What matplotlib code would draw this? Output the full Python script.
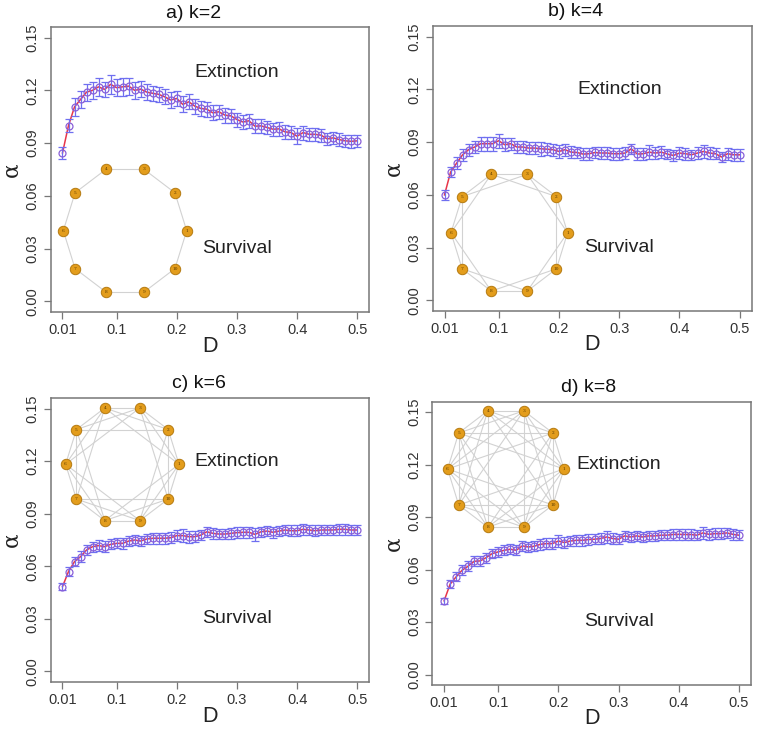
import matplotlib.pyplot as plt
import numpy as np

plt.rcParams['font.family'] = ['Liberation Sans', 'DejaVu Sans']

W, H = 760, 729

# diffusion values on the x axis
D = np.linspace(0.01, 0.50, 50)

alpha_k2 = [0.0844, 0.1000, 0.1106, 0.1148, 0.1190, 0.1200, 0.1220, 0.1205, 0.1234, 0.1215,
            0.1220, 0.1224, 0.1200, 0.1207, 0.1190, 0.1183, 0.1177, 0.1163, 0.1145, 0.1154,
            0.1120, 0.1135, 0.1110, 0.1097, 0.1093, 0.1072, 0.1078, 0.1059, 0.1055, 0.1034,
            0.1020, 0.1027, 0.0996, 0.0998, 0.0989, 0.0979, 0.0981, 0.0964, 0.0960, 0.0939,
            0.0960, 0.0950, 0.0950, 0.0945, 0.0924, 0.0930, 0.0920, 0.0913, 0.0910, 0.0913]
err_k2 = [0.0033, 0.0038, 0.0050, 0.0050, 0.0048, 0.0050, 0.0050, 0.0045, 0.0052, 0.0050,
          0.0050, 0.0048, 0.0048, 0.0045, 0.0045, 0.0043, 0.0043, 0.0043, 0.0045, 0.0045,
          0.0045, 0.0043, 0.0042, 0.0042, 0.0042, 0.0042, 0.0040, 0.0042, 0.0040, 0.0040,
          0.0040, 0.0040, 0.0040, 0.0040, 0.0038, 0.0038, 0.0038, 0.0038, 0.0038, 0.0045,
          0.0040, 0.0038, 0.0038, 0.0036, 0.0036, 0.0036, 0.0035, 0.0035, 0.0035, 0.0035]

alpha_k4 = [0.0600, 0.0729, 0.0780, 0.0828, 0.0857, 0.0872, 0.0891, 0.0891, 0.0891, 0.0908,
            0.0885, 0.0891, 0.0872, 0.0872, 0.0866, 0.0866, 0.0862, 0.0860, 0.0857, 0.0847,
            0.0857, 0.0843, 0.0841, 0.0832, 0.0834, 0.0841, 0.0838, 0.0838, 0.0834, 0.0834,
            0.0838, 0.0862, 0.0832, 0.0834, 0.0843, 0.0838, 0.0843, 0.0832, 0.0824, 0.0838,
            0.0834, 0.0828, 0.0838, 0.0847, 0.0838, 0.0834, 0.0815, 0.0834, 0.0828, 0.0828]
err_k4 = [0.0030, 0.0030, 0.0035, 0.0035, 0.0035, 0.0035, 0.0040, 0.0040, 0.0040, 0.0040,
          0.0038, 0.0035, 0.0035, 0.0035, 0.0035, 0.0035, 0.0040, 0.0035, 0.0035, 0.0035,
          0.0035, 0.0033, 0.0033, 0.0033, 0.0033, 0.0033, 0.0035, 0.0033, 0.0033, 0.0035,
          0.0033, 0.0030, 0.0033, 0.0033, 0.0038, 0.0033, 0.0035, 0.0030, 0.0030, 0.0033,
          0.0033, 0.0030, 0.0033, 0.0035, 0.0033, 0.0030, 0.0030, 0.0033, 0.0033, 0.0033]

alpha_k6 = [0.0484, 0.0570, 0.0627, 0.0655, 0.0693, 0.0712, 0.0718, 0.0712, 0.0725, 0.0731,
            0.0731, 0.0744, 0.0750, 0.0744, 0.0756, 0.0760, 0.0760, 0.0760, 0.0763, 0.0775,
            0.0775, 0.0769, 0.0769, 0.0778, 0.0797, 0.0788, 0.0784, 0.0784, 0.0788, 0.0792,
            0.0794, 0.0794, 0.0782, 0.0797, 0.0801, 0.0794, 0.0801, 0.0807, 0.0803, 0.0803,
            0.0811, 0.0807, 0.0803, 0.0807, 0.0807, 0.0807, 0.0811, 0.0811, 0.0807, 0.0807]
err_k6 = [0.0020, 0.0025, 0.0028, 0.0030, 0.0030, 0.0028, 0.0030, 0.0030, 0.0028, 0.0028,
          0.0030, 0.0030, 0.0030, 0.0030, 0.0030, 0.0030, 0.0030, 0.0030, 0.0030, 0.0030,
          0.0035, 0.0035, 0.0030, 0.0030, 0.0030, 0.0030, 0.0030, 0.0030, 0.0030, 0.0030,
          0.0030, 0.0030, 0.0035, 0.0030, 0.0030, 0.0030, 0.0030, 0.0030, 0.0030, 0.0030,
          0.0033, 0.0030, 0.0030, 0.0030, 0.0030, 0.0030, 0.0030, 0.0030, 0.0030, 0.0030]

alpha_k8 = [0.0421, 0.0516, 0.0558, 0.0596, 0.0619, 0.0647, 0.0649, 0.0668, 0.0691, 0.0701,
            0.0710, 0.0716, 0.0710, 0.0735, 0.0729, 0.0733, 0.0744, 0.0748, 0.0748, 0.0763,
            0.0754, 0.0763, 0.0767, 0.0767, 0.0771, 0.0773, 0.0777, 0.0786, 0.0777, 0.0773,
            0.0792, 0.0786, 0.0792, 0.0786, 0.0792, 0.0792, 0.0796, 0.0796, 0.0800, 0.0801,
            0.0800, 0.0800, 0.0796, 0.0809, 0.0801, 0.0805, 0.0805, 0.0809, 0.0801, 0.0796]
err_k8 = [0.0018, 0.0022, 0.0025, 0.0028, 0.0028, 0.0028, 0.0028, 0.0028, 0.0028, 0.0028,
          0.0028, 0.0028, 0.0028, 0.0030, 0.0030, 0.0030, 0.0030, 0.0030, 0.0030, 0.0033,
          0.0030, 0.0030, 0.0030, 0.0030, 0.0030, 0.0030, 0.0030, 0.0035, 0.0030, 0.0030,
          0.0030, 0.0030, 0.0030, 0.0030, 0.0030, 0.0030, 0.0030, 0.0030, 0.0030, 0.0030,
          0.0030, 0.0030, 0.0030, 0.0033, 0.0030, 0.0030, 0.0030, 0.0030, 0.0030, 0.0030]

titles = ['a) k=2', 'b) k=4', 'c) k=6', 'd) k=8']
ks = [2, 4, 6, 8]
series = [alpha_k2, alpha_k4, alpha_k6, alpha_k8]
errors = [err_k2, err_k4, err_k6, err_k8]
ext_y = [0.13, 0.12, 0.12, 0.12]
surv_y = [0.03, 0.03, 0.03, 0.03]
xticks = [0.01, 0.1, 0.2, 0.3, 0.4, 0.5]
xticklabels = ['0.01', '0.1', '0.2', '0.3', '0.4', '0.5']
yticks = [0.00, 0.03, 0.06, 0.09, 0.12, 0.15]
yticklabels = ['0.00', '0.03', '0.06', '0.09', '0.12', '0.15']
n_nodes = 10

# axes boxes in pixels: left, top, right, bottom
boxes = [(50.7, 27, 369, 312), (432.7, 26, 751.5, 311),
         (50.7, 398, 369, 682), (432.3, 401.5, 750.7, 685)]
title_dx = [-16, -17, -11, -3]
# network insets: centre x, centre y, radius x, radius y (pixels)
insets = [(125, 230.7, 61.7, 64.5), (509.3, 232.7, 58.3, 61.4),
          (122.3, 464.3, 56.7, 59.2), (505.8, 469, 58.2, 61.2)]

grey = '#777777'
fig = plt.figure(figsize=(W / 100, H / 100), dpi=100)

for i in range(4):
    l, t, r, b = boxes[i]
    ax = fig.add_axes([l / W, 1 - b / H, (r - l) / W, (b - t) / H])
    ax.plot(D, series[i], color='#e8364a', lw=1.1, zorder=2)
    ax.errorbar(D, series[i], yerr=errors[i], fmt='none', ecolor='#6f6ff0',
                elinewidth=0.9, capsize=3, capthick=0.9, zorder=3)
    ax.plot(D, series[i], 'o', ms=5, mfc='none', mec='#8a5fd8', mew=0.9, zorder=4)
    ax.set_xlim(0.01 - 0.0196, 0.5 + 0.0196)
    ax.set_ylim(-0.006, 0.156)
    ax.set_xticks(xticks)
    ax.set_xticklabels(xticklabels)
    ax.set_yticks(yticks)
    ax.set_yticklabels(yticklabels, rotation=90, va='center')
    ax.tick_params(direction='out', length=5, width=0.9, color=grey,
                   labelsize=10.5, labelcolor='#333333', pad=3)
    for s in ax.spines.values():
        s.set_color(grey)
        s.set_linewidth(1.1)
    ax.text(0.3, ext_y[i], 'Extinction', fontsize=14, color='#222222', ha='center', va='center')
    ax.text(0.3, surv_y[i], 'Survival', fontsize=14, color='#222222', ha='center', va='center')
    ax.annotate('D', (0.5, 0), xycoords='axes fraction', xytext=(0, -34),
                textcoords='offset pixels', ha='center', va='center', fontsize=15.5, color='#222222')
    ax.annotate('α', (0, 0.5), xycoords='axes fraction', xytext=(-39, 0),
                textcoords='offset pixels', ha='center', va='center', fontsize=15.5,
                rotation=90, color='#222222', family=['DejaVu Serif'])
    ax.annotate(titles[i], (0.5, 1), xycoords='axes fraction', xytext=(title_dx[i], 14),
                textcoords='offset pixels', ha='center', va='center', fontsize=14, color='#111111')

    # ring lattice network
    cx, cy, rx, ry = insets[i]
    m = 1.25
    iax = fig.add_axes([(cx - m * rx) / W, 1 - (cy + m * ry) / H, 2 * m * rx / W, 2 * m * ry / H])
    iax.set_xlim(-m, m)
    iax.set_ylim(-m, m)
    iax.axis('off')
    ang = np.deg2rad(np.arange(n_nodes) * 36.0)
    nx, ny = np.cos(ang), np.sin(ang)
    for a in range(n_nodes):
        for j in range(1, ks[i] // 2 + 1):
            bnode = (a + j) % n_nodes
            iax.plot([nx[a], nx[bnode]], [ny[a], ny[bnode]], color='#d2d2d2', lw=0.8, zorder=1)
    iax.plot(nx, ny, 'o', ms=7.5, mfc='#e39d1c', mec='#b57a10', mew=0.7, zorder=2)
    for a in range(n_nodes):
        iax.text(nx[a], ny[a], str(a + 1), fontsize=3.2, color='#5a3a00',
                 ha='center', va='center', family=['DejaVu Serif'], zorder=3)

fig.savefig('out.png', dpi=100)
